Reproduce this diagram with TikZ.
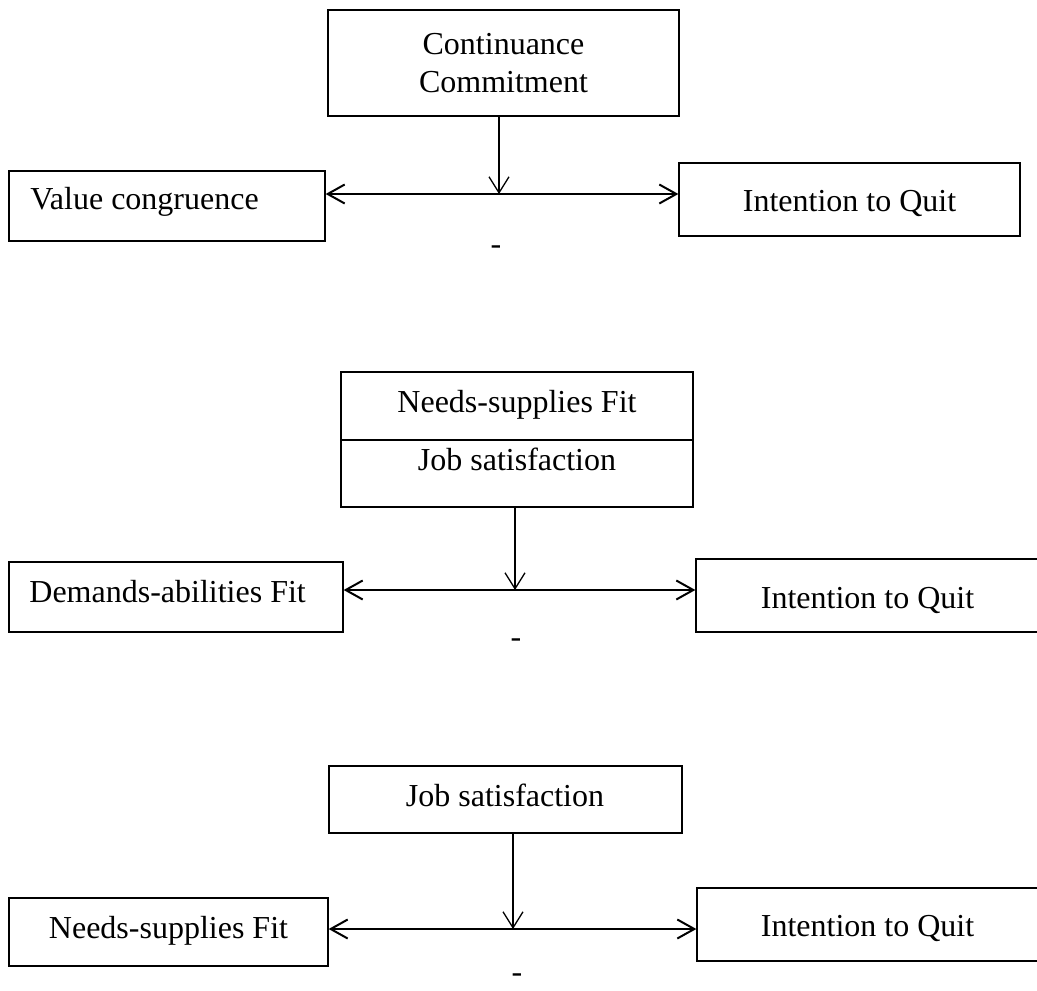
\documentclass[tikz,border=0pt]{standalone}
\usepackage{fontspec}
\setmainfont{Liberation Serif}
\usetikzlibrary{arrows.meta,fit}
\begin{document}
\begin{tikzpicture}[x=0.5pt,y=-0.5pt,
  box/.style={draw,line width=0.65pt,inner sep=0pt,rectangle},
  lbl/.style={anchor=base,inner sep=0pt,font=\fontsize{16}{19}\selectfont},
  lbll/.style={lbl,anchor=base west},
  dbl/.style={line width=1pt,{Straight Barb[length=8.5pt,width=9.5pt]}-{Straight Barb[length=8.5pt,width=9.5pt]}},
  mod/.style={line width=0.65pt,-{Straight Barb[length=8pt,width=10pt]}},
]
\useasboundingbox (0,0) rectangle (1037,990);

% ---- Diagram 1
\node[box,fit={(328,10)(679,116)}] (cc) {};
\node[lbl] (cc1) at (503.5,55) {Continuance};
\node[lbl] (cc2) at (503.5,93) {Commitment};
\node[box,fit={(9,171)(325,241)}] (vc) {};
\node[lbll] (vct) at (30,209) {Value congruence};
\node[box,fit={(679,163)(1020,236)}] (iq1) {};
\node[lbl] (iq1t) at (849.5,211) {Intention to Quit};
\coordinate (m1) at (499,194);
\draw[dbl] (m1 -| vc.east) -- (m1 -| iq1.west);
\draw[mod] (cc.south -| m1) -- (m1);
\node[lbl] (s1) at (496,254) {-};

% ---- Diagram 2
\node[box,fit={(341,372)(693,507)}] (nj) {};
\coordinate (d2) at (0,440);
\draw[line width=0.9pt] (nj.west |- d2) -- (nj.east |- d2);
\node[lbl] (njt1) at (517,412) {Needs-supplies Fit};
\node[lbl] (njt2) at (517,470) {Job satisfaction};
\node[box,fit={(9,562)(343,632)}] (da) {};
\node[lbll] (dat) at (29,602) {Demands-abilities Fit};
\node[box,fit={(696,559)(1040,632)}] (iq2) {};
\node[lbl] (iq2t) at (867.5,608) {Intention to Quit};
\coordinate (m2) at (515,590);
\draw[dbl] (m2 -| da.east) -- (m2 -| iq2.west);
\draw[mod] (nj.south -| m2) -- (m2);
\node[lbl] (s2) at (516,647) {-};

% ---- Diagram 3
\node[box,fit={(329,766)(682,833)}] (js) {};
\node[lbl] (jst) at (505,806) {Job satisfaction};
\node[box,fit={(9,898)(328,966)}] (ns) {};
\node[lbl] (nst) at (168.5,938) {Needs-supplies Fit};
\node[box,fit={(697,888)(1040,961)}] (iq3) {};
\node[lbl] (iq3t) at (867.5,936) {Intention to Quit};
\coordinate (m3) at (513,929);
\draw[dbl] (m3 -| ns.east) -- (m3 -| iq3.west);
\draw[mod] (js.south -| m3) -- (m3);
\node[lbl] (s3) at (517,982) {-};
\end{tikzpicture}
\end{document}
